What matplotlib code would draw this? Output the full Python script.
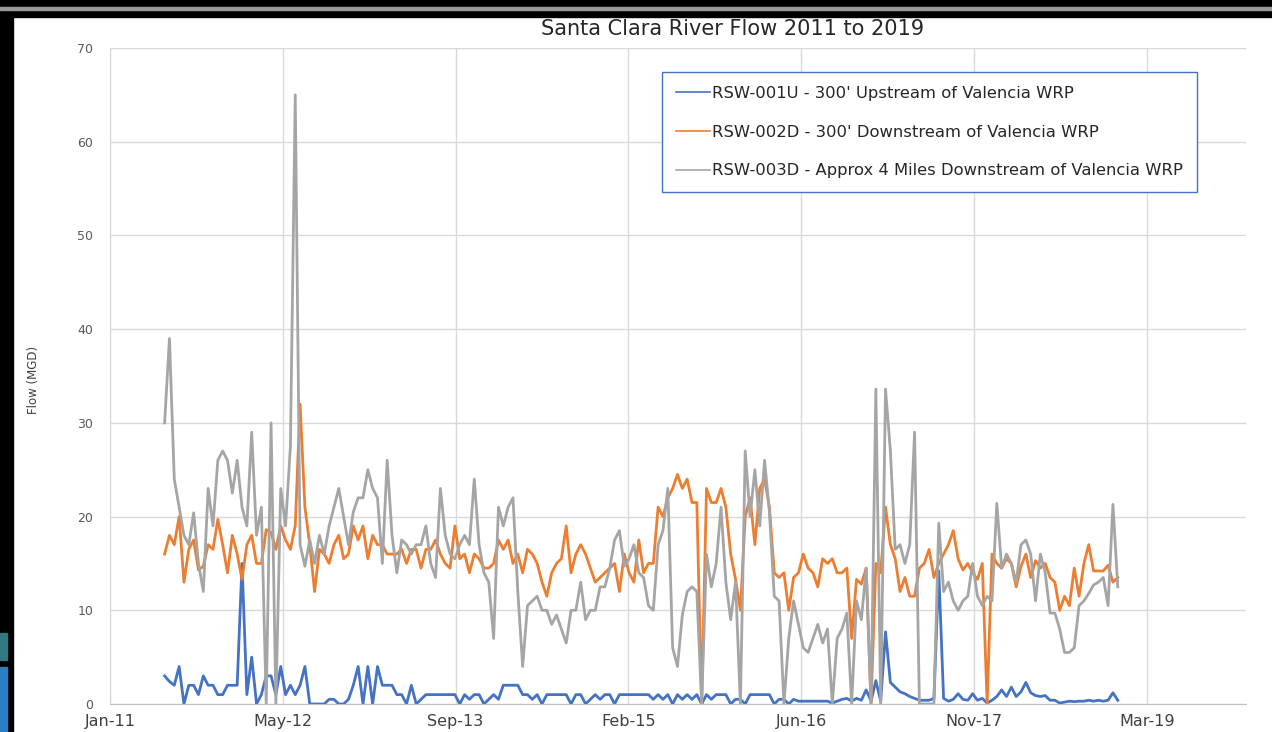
import pandas as pd
import numpy as np
import matplotlib
matplotlib.use('Agg')
import matplotlib.pyplot as plt
import matplotlib.dates as mdates
from matplotlib.patches import Rectangle

# fortnightly samples, Jun 2011 -> Dec 2018
start_date = '2011-06-08'

rsw_001u = [3, 2.4, 2, 4, 0, 2, 2, 1, 3, 2,
            2, 1, 1, 2, 2, 2, 15, 1, 5, 0,
            1, 3, 3, 1, 4, 1, 2, 1, 2, 4,
            0, 0, 0, 0, 0.5, 0.5, 0, 0, 0.5, 2,
            4, 0, 4, 0, 4, 2, 2, 2, 1, 1,
            0, 2, 0, 0.5, 1, 1, 1, 1, 1, 1,
            1, 0, 1, 0.5, 1, 1, 0, 0.5, 1, 0.5,
            2, 2, 2, 2, 1, 1, 0.5, 1, 0, 1,
            1, 1, 1, 1, 0, 1, 1, 0, 0.5, 1,
            0.5, 1, 1, 0, 1, 1, 1, 1, 1, 1,
            1, 0.5, 1, 0.5, 1, 0, 1, 0.5, 1, 0.5,
            1, 0, 1, 0.5, 1, 1, 1, 0, 0.5, 0.5,
            0, 1, 1, 1, 1, 1, 0, 0.5, 0.5, 0,
            0.5, 0.3, 0.3, 0.3, 0.3, 0.3, 0.3, 0.3, 0.1, 0.3,
            0.5, 0.6, 0.3, 0.6, 0.4, 1.5, 0.3, 2.5, 0.3, 7.7,
            2.3, 1.8, 1.3, 1.1, 0.8, 0.6, 0.4, 0.4, 0.4, 0.6,
            14.2, 0.6, 0.3, 0.5, 1.1, 0.5, 0.4, 1.1, 0.4, 0.6,
            0.1, 0.4, 0.8, 1.5, 0.8, 1.8, 0.8, 1.3, 2.3, 1.2,
            0.9, 0.8, 0.9, 0.4, 0.4, 0.1, 0.2, 0.3, 0.25, 0.3,
            0.3, 0.4, 0.3, 0.4, 0.3, 0.4, 1.2, 0.4]

rsw_002d = [16, 18, 17, 20, 13, 16.5, 17.5, 14.3, 14.7, 17,
            16.5, 19.7, 17, 14, 18, 16, 13.3, 17, 18, 15,
            15, 18.6, 18.3, 16.5, 19, 17.5, 16.5, 19, 32, 21,
            17, 12, 16.5, 16, 15, 17, 18, 15.5, 16, 19,
            17.5, 19, 15.5, 18, 17, 17, 16, 16, 16, 16.5,
            15, 16.5, 16.5, 14.5, 16.5, 16.5, 17.5, 16, 15, 14.5,
            19, 15.5, 16, 14, 16, 15.5, 14.5, 14.5, 15, 17.5,
            16.5, 17.5, 15, 16, 14, 16.5, 16, 15, 13, 11.5,
            14, 15, 15.5, 19, 14, 16, 17, 16, 14.5, 13,
            13.5, 14, 14.5, 15, 12, 16, 14, 13, 17.5, 14,
            15, 15, 21, 20, 22, 23, 24.5, 23, 24, 21.5,
            21.5, 0, 23, 21.5, 21.5, 23, 21, 16, 13.3, 10,
            20, 22, 17, 23, 24, 21, 14, 13.5, 14, 10,
            13.5, 14, 16, 14.5, 14, 12.5, 15.5, 15, 15.5, 14,
            14, 14.5, 7, 13.3, 12.8, 14.5, 0, 15, 14, 21,
            17, 15.5, 12, 13.5, 11.5, 11.5, 14.5, 15, 16.5, 13.5,
            15, 16, 17, 18.5, 15.5, 14.3, 15, 14, 13.3, 15,
            0, 16, 15, 14.5, 15.5, 15, 12.5, 14.7, 16, 13.5,
            15.3, 14.5, 15, 13.5, 13, 10, 11.5, 10.5, 14.5, 11.5,
            15, 17, 14.2, 14.2, 14.2, 14.8, 13, 13.5]

rsw_003d = [30, 39, 24, 21, 18, 17, 20.4, 15, 12, 23,
            19, 26, 27, 26, 22.5, 26, 21, 19, 29, 18,
            21, 0, 30, 0, 23, 19, 27.5, 65, 17, 14.7,
            17.5, 15, 18, 16, 19, 21, 23, 20, 17, 20.5,
            22, 22, 25, 23, 22, 15, 26, 18, 14, 17.5,
            17, 16, 17, 17, 19, 15, 13.5, 23, 18, 16,
            15.5, 17, 18, 17, 24, 17, 14, 13, 7, 21,
            19, 21, 22, 12, 4, 10.5, 11, 11.5, 10, 10,
            8.5, 9.5, 8, 6.5, 10, 10, 13, 9, 10, 10,
            12.5, 12.5, 14.5, 17.5, 18.5, 14.7, 15.5, 17, 14, 13.5,
            10.5, 10, 17, 18.5, 23, 6, 4, 9.5, 12, 12.5,
            12, 0, 16, 12.5, 15, 21, 13, 9, 13, 0,
            27, 20, 25, 19, 26, 20.5, 11.5, 11, 0, 7,
            11, 8.5, 6, 5.5, 7, 8.5, 6.5, 8, 0, 7,
            8, 9.7, 0, 11, 9, 14.5, 0, 33.6, 0, 33.6,
            27, 16.5, 17, 15, 17, 29, 0, 0, 0, 0,
            19.3, 12, 13, 11, 10, 11, 11.5, 15, 11.5, 10.5,
            11.5, 11, 21.4, 14.5, 16, 15, 13, 17, 17.5, 16,
            11, 16, 14, 9.7, 9.7, 8, 5.5, 5.5, 6, 10.5,
            11, 11.8, 12.7, 13, 13.5, 10.5, 21.3, 12.5]

labels = ["RSW-001U - 300' Upstream of Valencia WRP",
          "RSW-002D - 300' Downstream of Valencia WRP",
          "RSW-003D - Approx 4 Miles Downstream of Valencia WRP"]
colors = ['#4472C4', '#ED7D31', '#A5A5A5']

dates = pd.date_range(start_date, periods=len(rsw_001u), freq='14D')

fig = plt.figure(figsize=(12.72, 7.32), dpi=100)
ax = fig.add_axes([110/1272, 28/732, 1136/1272, 656/732])

for vals, lab, c in zip([rsw_001u, rsw_002d, rsw_003d], labels, colors):
    ax.plot(dates, vals, color=c, lw=2, label=lab)

# axis: Excel style, major unit 500 days
x0 = pd.Timestamp('2011-01-01')
ax.set_xlim(x0, pd.Timestamp('2020-01-01'))
ax.set_xticks([x0 + pd.Timedelta(days=500 * i) for i in range(7)])
ax.xaxis.set_major_formatter(mdates.DateFormatter('%b-%y'))
ax.set_ylim(0, 70)
ax.set_yticks(range(0, 71, 10))
ax.grid(True, color='#D9D9D9', lw=1)
ax.set_axisbelow(True)
for s in ['top', 'right']:
    ax.spines[s].set_visible(False)
ax.spines['left'].set_color('#D9D9D9')
ax.spines['bottom'].set_color('#BFBFBF')
ax.tick_params(length=0)
ax.tick_params(axis='y', labelsize=9, colors='#595959', pad=12)
ax.tick_params(axis='x', labelsize=11.5, colors='#404040', pad=7)

leg = ax.legend(loc='upper left', bbox_to_anchor=(662/1272, 1 - 72/732),
                bbox_transform=fig.transFigure, fontsize=11.8, frameon=True,
                fancybox=False, framealpha=1, edgecolor='#4472C4',
                handlelength=2.1, handletextpad=0.1, labelspacing=1.45,
                borderpad=0.85, borderaxespad=0)
leg.get_frame().set_linewidth(1)
for h in leg.get_lines():
    h.set_linewidth(1.2)
for t in leg.get_texts():
    t.set_color('#262626')

fig.text(733/1272, 1 - 29/732, 'Santa Clara River Flow 2011 to 2019',
         ha='center', va='center', fontsize=15, color='#262626')
fig.text(33/1272, 1 - 380/732, 'Flow (MGD)', rotation=90, ha='center',
         va='center', fontsize=8.5, color='#404040')

# screenshot borders
fig.patches.append(Rectangle((0, 1 - 17/732), 1, 17/732, transform=fig.transFigure,
                             color='black', zorder=0))
fig.patches.append(Rectangle((0, 1 - 10/732), 1, 3/732, transform=fig.transFigure,
                             color='#9a9a9a', zorder=1))
fig.patches.append(Rectangle((0, 0), 13/1272, 1, transform=fig.transFigure,
                             color='black', zorder=0))
fig.patches.append(Rectangle((0, 1 - 660/732), 7/1272, 27/732, transform=fig.transFigure,
                             color='#2f7a80', zorder=1))
fig.patches.append(Rectangle((0, 0), 7/1272, 65/732, transform=fig.transFigure,
                             color='#2a7fc4', zorder=1))

fig.savefig('out.png', dpi=100)
